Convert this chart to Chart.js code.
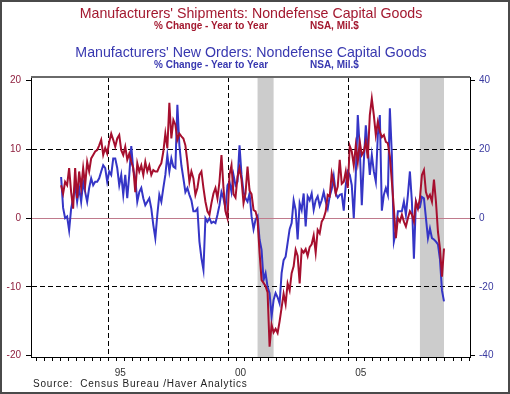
<!DOCTYPE html>
<html>
<head>
<meta charset="utf-8">
<script src="https://cdn.jsdelivr.net/npm/chart.js@4.4.1/dist/chart.umd.min.js"></script>
<style>
  body { margin: 0; background: #fff; }
  .wrap { position: relative; width: 510px; height: 394px; font-family: 'Liberation Sans', Arial, sans-serif; }
  .frame { position: absolute; left: 0; top: 0; width: 510px; height: 394px; box-sizing: border-box; border: 2px solid #4a4a4a; pointer-events: none; }
  .t { position: absolute; white-space: nowrap; line-height: 1; }
  .title { font-size: 14.2px; width: 502px; text-align: center; left: 0; }
  .sub { font-size: 10px; font-weight: bold; }
  .red { color: #a3182f; }
  .blue { color: #3838b0; }
  .source { font-size: 10px; color: #222; left: 33px; top: 379px; letter-spacing: 0.8px; }
</style>
</head>
<body>
<div class="wrap">
  <canvas id="chart" width="510" height="394"></canvas>
  <div class="t title red" style="top:6px">Manufacturers' Shipments: Nondefense Capital Goods</div>
  <div class="t sub red" style="left:154px;top:21px">% Change - Year to Year</div>
  <div class="t sub red" style="left:310px;top:21px">NSA, Mil.$</div>
  <div class="t title blue" style="top:45px">Manufacturers' New Orders: Nondefense Capital Goods</div>
  <div class="t sub blue" style="left:154px;top:60px">% Change - Year to Year</div>
  <div class="t sub blue" style="left:310px;top:60px">NSA, Mil.$</div>
  <div class="t source">Source:&nbsp; Census Bureau /Haver Analytics</div>
  <div class="frame"></div>
</div>
<script>
// monthly, Jan 1993 .. Dec 2008
const startYear = 1993;

// Shipments, % yoy (left axis)
const shipments = [
  4.8, 3.6, 5.3, 4.8, 7.3, 3.8, 1.4, 7.3, 2.9, 6.8, 4.4, 7.3,
  4.8, 8.2, 6.8, 8.7, 9.2, 9.7, 9.9, 10.6, 11.4, 9.2, 10.2, 9.4,
  11.1, 12.3, 11.4, 10.4, 11.6, 12.1, 9.9, 9.2, 10.4, 8.5, 9.4, 8.2,
  7.3, 3.8, 8.0, 6.8, 7.7, 6.3, 8.2, 6.8, 7.7, 6.3, 7.0, 6.8,
  6.8, 7.5, 8.0, 9.7, 12.3, 10.2, 16.8, 11.6, 14.3, 13.6, 11.4, 12.3,
  11.9, 11.6, 10.6, 8.2, 5.3, 6.8, 5.8, 3.4, 4.4, 6.3, 6.8, 4.4,
  2.4, 1.0, 0.5, 2.2, 3.6, 4.4, 2.9, 5.3, 9.2, 4.4, 1.0, 0.0,
  6.3, 7.7, 3.5, 3.0, 6.0, 7.3, 5.6, 2.2, 3.6, 7.5, 4.0, 3.5,
  1.2, 1.0, -0.2, -5.0, -9.0, -9.4, -9.9, -10.8, -18.7, -15.5, -16.6, -16.1,
  -16.7, -15.0, -13.0, -11.0, -12.5, -9.5, -10.5, -8.0, -7.0, -4.6, -5.5, -9.5,
  -4.6, -5.0, -4.5, -5.5, -4.2, -3.8, -2.5, -5.0, -1.7, -2.2, -0.5, 0.0,
  1.0, 3.4, 3.2, 6.5, 5.1, 3.6, 4.6, 8.5, 5.0, 5.3, 6.8, 4.4,
  10.5, 9.7, 7.7, 10.6, 8.2, 11.1, 9.2, 9.7, 11.1, 8.7, 15.0, 17.4,
  15.0, 12.1, 14.0, 12.6, 11.8, 12.1, 11.1, 10.9, 9.0, 5.3, 1.4, -2.9,
  0.0, -0.5, 0.5, -0.5, -1.2, 0.0, 1.0, 0.5, -0.5, 2.4, 1.4, 2.9,
  6.3, 7.0, 3.8, 2.9, 3.4, 2.4, 5.6, 2.4, -2.0, -4.4, -8.5, -4.4
];

// New orders, % yoy (right axis)
const newOrders = [
  12, 3, 0, 0.5, -3.5, 2.8, 5.8, 9.6, 4.8, 8.8, 4.8, 10.6,
  7.6, 4.8, 8.8, 11.6, 9.6, 10.6, 10.6, 11.6, 13.6, 15.4, 14.6, 10.6,
  13.6, 12.6, 17.4, 17.4, 14.6, 9.6, 12.6, 6.8, 12.6, 5.8, 12.6, 21,
  14, 11.6, 4.8, 7.6, 8.8, 5.8, 3.8, 4.8, 5.8, 2.8, -2, -5.8,
  1, 6.8, 4.8, 8.8, 12.6, 18.4, 13.6, 17.4, 15, 14.6, 33, 21.2,
  15.4, 11.6, 7.6, 8.8, 6.8, 5.2, 2, 2, 2.8, -6.8, -11.6, -15,
  0, -1, 0, -1.4, -1, -1.4, 1, 3.8, 7.6, 5.8, 2.8, 9.6,
  10.6, 7.6, 12.6, 9.6, 10.6, 21.2, 12.6, 7.6, 5.8, 4.8, 7.2, 0.6,
  -3.2, -0.4, 0.6, -6.2, -9.2, -18, -16, -20, -21.8, -28.6, -23.8, -21.8,
  -23, -24.8, -16, -12.2, -11.2, -7.2, -3.2, -1.4, 5.2, 2.4, -6.2, 4.4,
  2.4, 7.2, -2.4, 6.4, 5.2, 7.2, 2.4, 5.2, 6.4, 3.6, 5.2, 7.6,
  4.8, 2.8, 6.4, 8.4, 12.2, 7.2, 6, 6.8, 7, 2.2, 9.6, 13.6,
  12.6, 9.6, 0, 12.6, 30, 20.2, 3.8, 16.4, 27, 20.2, 12.6, 18.4,
  13.6, 10.6, 24.2, 30, 2.2, 6.8, 8.8, 6.8, 32, 18.4, -6.8, -4,
  2, 2, 2, 4.8, 1, 6.8, 13.6, 4.8, -11.8, 4.8, 2.8, 3.2,
  6.2, 5.8, 0, -5.8, -3, -5.8, -6.2, -6.8, -7.6, -12, -21, -24.2
];

const leftTicks = [-20, -10, 0, 10, 20];
const rightTicks = [-40, -20, 0, 20, 40];
const yearLabels = [1995, 2000, 2005];
const recessions = [['2001-03', '2001-11'], ['2007-12', '2008-12']];

const monthPos = (ym) => {
  const [y, m] = ym.split('-').map(Number);
  return y + (m - 0.5) / 12;
};
const toPoints = (vals) => vals.map((v, i) => ({ x: startYear + (i + 0.5) / 12, y: v }));
const near = (a, b) => Math.abs(a - b) < 1e-6;

// x ticks: every 4 months, plus mid-year ticks carrying the labels
const xTicks = [];
for (let k = 0; k <= 54; k++) xTicks.push(1992 + k / 3);
yearLabels.forEach((y) => xTicks.push(y + 0.5));
xTicks.sort((a, b) => a - b);

const isLabelTick = (v) => yearLabels.some((y) => near(v, y + 0.5));

const recessionShade = {
  id: 'recessionShade',
  beforeDraw(chart) {
    const { ctx, chartArea, scales } = chart;
    ctx.save();
    ctx.fillStyle = '#cccccc';
    recessions.forEach(([a, b]) => {
      const x1 = scales.x.getPixelForValue(monthPos(a));
      const x2 = scales.x.getPixelForValue(monthPos(b));
      ctx.fillRect(x1, chartArea.top, x2 - x1, chartArea.bottom - chartArea.top);
    });
    ctx.restore();
  }
};

const topLine = {
  id: 'topLine',
  afterDraw(chart) {
    const { ctx, chartArea } = chart;
    ctx.save();
    ctx.strokeStyle = '#6a6a6a';
    ctx.lineWidth = 2;
    ctx.beginPath();
    ctx.moveTo(chartArea.left, chartArea.top);
    ctx.lineTo(chartArea.right, chartArea.top);
    ctx.stroke();
    ctx.restore();
  }
};

const font = { family: "'Liberation Sans', Arial, sans-serif", size: 10 };

new Chart(document.getElementById('chart'), {
  type: 'line',
  data: {
    datasets: [
      {
        label: 'Shipments',
        data: toPoints(shipments),
        yAxisID: 'y',
        borderColor: '#a60f2e',
        borderWidth: 2,
        pointRadius: 0,
        tension: 0
      },
      {
        label: 'New Orders',
        data: toPoints(newOrders),
        yAxisID: 'y2',
        borderColor: '#3535c6',
        borderWidth: 2,
        pointRadius: 0,
        tension: 0
      }
    ]
  },
  options: {
    responsive: false,
    animation: false,
    layout: { padding: { top: 77, left: 0, right: 0, bottom: 0 } },
    plugins: { legend: { display: false }, tooltip: { enabled: false }, title: { display: false } },
    scales: {
      x: {
        type: 'linear',
        min: 1991.79,
        max: 2010.04,
        afterBuildTicks: (axis) => { axis.ticks = xTicks.map((v) => ({ value: v })); },
        afterFit: (axis) => { axis.height = 37; },
        ticks: {
          autoSkip: false,
          maxRotation: 0,
          padding: 6,
          color: '#333',
          font,
          callback: (v) => (isLabelTick(v) ? String(Math.floor(v)).slice(-2) : '')
        },
        grid: {
          drawOnChartArea: true,
          tickLength: 4,
          color: (c) => (yearLabels.some((y) => near(c.tick.value, y)) ? '#000' : 'rgba(0,0,0,0)'),
          tickColor: (c) => (isLabelTick(c.tick.value) ? 'rgba(0,0,0,0)' : '#000')
        },
        border: { display: true, color: '#000', width: 1, dash: [5, 3] }
      },
      y: {
        position: 'left',
        min: -20.19,
        max: 20.54,
        afterBuildTicks: (axis) => { axis.ticks = leftTicks.map((v) => ({ value: v })); },
        afterFit: (axis) => { axis.width = 31; },
        ticks: { color: '#8e1f3e', font, padding: 5 },
        grid: {
          drawOnChartArea: true,
          tickLength: 5,
          color: (c) => (Math.abs(c.tick.value) === 10 ? '#000' : 'rgba(0,0,0,0)'),
          tickColor: '#000'
        },
        border: { display: true, color: '#000', width: 1, dash: [5, 3] }
      },
      y2: {
        position: 'right',
        min: -40.38,
        max: 41.08,
        afterBuildTicks: (axis) => { axis.ticks = rightTicks.map((v) => ({ value: v })); },
        afterFit: (axis) => { axis.width = 40; },
        ticks: { color: '#3a3aa0', font, padding: 4 },
        grid: {
          drawOnChartArea: true,
          tickLength: 5,
          color: (c) => (c.tick.value === 0 ? '#c07a8c' : 'rgba(0,0,0,0)'),
          tickColor: '#000'
        },
        border: { display: true, color: '#000', width: 1 }
      }
    }
  },
  plugins: [recessionShade, topLine]
});
</script>
</body>
</html>
